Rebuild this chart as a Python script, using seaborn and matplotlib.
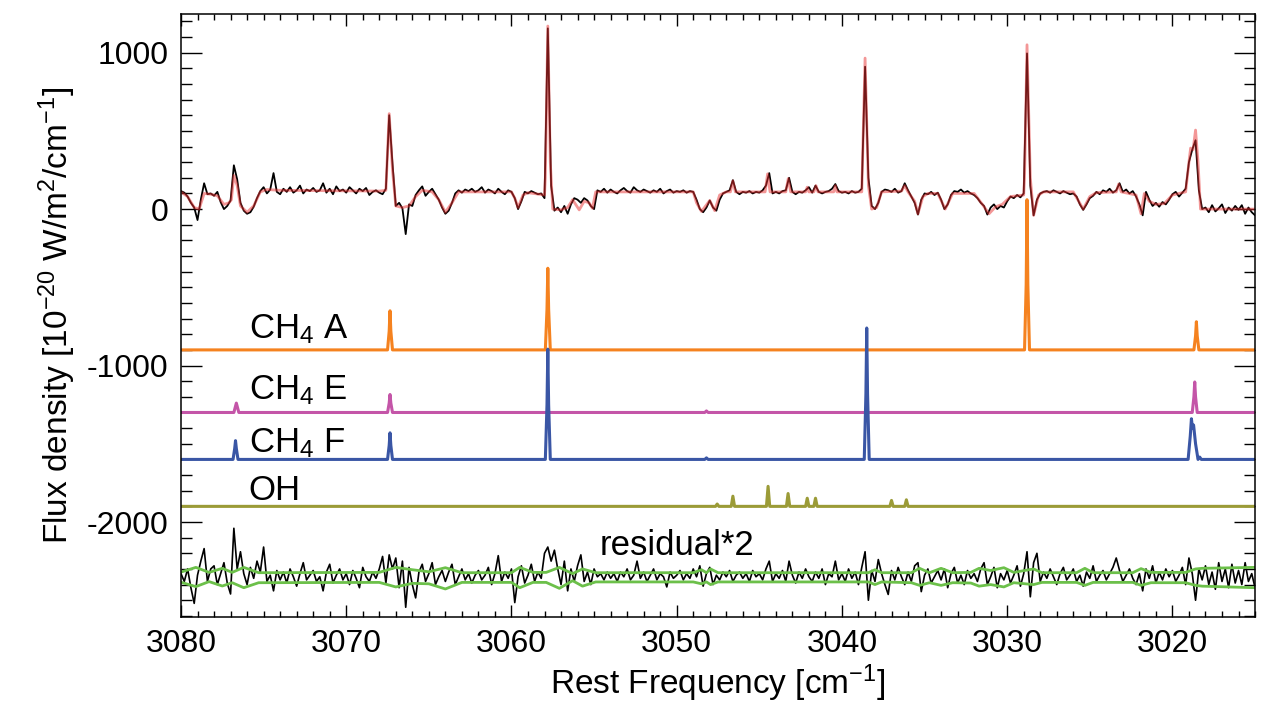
import numpy as np
import pandas as pd
import seaborn as sns
import matplotlib.pyplot as plt
from matplotlib.ticker import MultipleLocator

# observed spectrum, 0.2 cm-1 sampling, from 3080 down to 3015
freq = np.round(np.arange(3080.0, 3014.9, -0.2), 1)

flux = [
    115, 105, 80, 40, 10, -70, 60, 165, 95, 100,
    85, 110, 45, 0, 20, 55, 280, 190, 40, -10,
    -30, -20, 15, 70, 115, 140, 100, 125, 230, 110,
    95, 130, 110, 140, 105, 120, 150, 100, 125, 115,
    135, 110, 120, 165, 105, 130, 95, 145, 115, 125,
    105, 140, 120, 100, 130, 115, 135, 90, 110, 120,
    105, 95, 130, 600, 290, 20, 40, 5, -160, 30,
    20, 90, 120, 145, 85, 110, 130, 95, 60, 10,
    -30, -10, 40, 100, 120, 105, 125, 115, 130, 110,
    120, 140, 105, 125, 115, 100, 130, 110, 95, 120,
    110, 70, 0, 50, 110, 100, 115, 105, 95, 100,
    70, 1155, 150, -10, 10, -20, 20, -30, 30, 70,
    60, 40, 70, 55, 20, 0, 120, 110, 130, 105,
    125, 110, 100, 120, 135, 115, 105, 140, 120, 110,
    125, 115, 105, 120, 110, 130, 100, 115, 125, 105,
    115, 110, 120, 105, 115, 110, 60, 0, -20, 10,
    55, 10, -10, 60, 100, 110, 120, 185, 110, 95,
    110, 105, 115, 100, 110, 105, 120, 150, 230, 100,
    110, 100, 115, 120, 200, 110, 95, 110, 105, 120,
    140, 105, 150, 110, 100, 110, 115, 130, 160, 115,
    105, 110, 100, 115, 105, 110, 130, 910, 200, 20,
    0, 40, 110, 125, 120, 110, 130, 105, 115, 165,
    120, 80, 40, -35, 60, 100, 95, 110, 90, 105,
    60, 0, 30, 90, 115, 110, 125, 105, 115, 100,
    90, 70, 40, 20, -35, 10, 30, 0, 20, 10,
    50, 80, 70, 90, 75, 100, 995, 150, -40, 60,
    100, 110, 115, 105, 120, 110, 100, 115, 105, 95,
    100, 80, 30, -5, 30, 70, 85, 110, 95, 120,
    110, 130, 105, 120, 165, 110, 125, 100, 115, 80,
    30, -40, 110, 60, 20, 40, 15, 45, 30, 60,
    95, 110, 80, 105, 130, 300, 380, 440, 120, 0,
    10, -20, 25, -15, 5, 30, -25, 10, -10, 20,
    -5, 25, -30, 10, -20, -40,
]

resid = [
    -2330, -2380, -2300, -2420, -2520, -2340, -2250, -2170, -2380, -2300,
    -2280, -2400, -2330, -2260, -2390, -2460, -2040, -2300, -2190, -2330,
    -2400, -2290, -2360, -2250, -2320, -2160, -2380, -2340, -2440, -2310,
    -2370, -2320, -2390, -2300, -2350, -2410, -2330, -2260, -2370, -2340,
    -2310, -2380, -2350, -2440, -2320, -2270, -2390, -2340, -2300, -2370,
    -2330, -2400, -2310, -2360, -2420, -2290, -2350, -2380, -2320, -2360,
    -2300, -2220, -2390, -2210, -2300, -2230, -2420, -2250, -2545, -2290,
    -2400, -2485, -2320, -2270, -2380, -2330, -2260, -2400, -2350, -2310,
    -2380, -2320, -2270, -2400, -2350, -2300, -2370, -2330, -2390, -2340,
    -2310, -2370, -2340, -2290, -2400, -2330, -2215, -2380, -2320, -2360,
    -2300, -2515, -2350, -2280, -2390, -2340, -2270, -2380, -2320, -2360,
    -2200, -2160, -2250, -2180, -2300, -2400, -2250, -2440, -2300, -2380,
    -2280, -2210, -2380, -2320, -2400, -2300, -2350, -2330, -2370, -2320,
    -2360, -2330, -2380, -2320, -2350, -2300, -2370, -2340, -2250, -2360,
    -2320, -2380, -2340, -2300, -2370, -2330, -2350, -2415, -2320, -2360,
    -2340, -2310, -2370, -2330, -2360, -2300, -2350, -2280, -2410, -2330,
    -2290, -2400, -2340, -2370, -2320, -2350, -2310, -2380, -2340, -2320,
    -2360, -2330, -2380, -2310, -2350, -2330, -2370, -2300, -2250, -2380,
    -2330, -2360, -2310, -2380, -2250, -2340, -2390, -2320, -2360, -2300,
    -2350, -2380, -2320, -2360, -2300, -2400, -2330, -2350, -2250, -2370,
    -2330, -2380, -2300, -2360, -2320, -2400, -2290, -2190, -2500, -2310,
    -2380, -2240, -2330, -2400, -2463, -2310, -2370, -2290, -2350, -2400,
    -2320, -2380, -2280, -2260, -2445, -2340, -2300, -2390, -2350, -2310,
    -2370, -2300, -2420, -2330, -2290, -2390, -2340, -2400, -2310, -2360,
    -2330, -2380, -2300, -2260, -2400, -2350, -2290, -2420, -2330, -2370,
    -2310, -2390, -2340, -2280, -2410, -2330, -2190, -2478, -2260, -2200,
    -2380, -2320, -2360, -2300, -2350, -2400, -2330, -2290, -2370, -2340,
    -2300, -2380, -2340, -2410, -2320, -2360, -2280, -2380, -2340, -2310,
    -2370, -2330, -2290, -2230, -2310, -2380, -2340, -2300, -2360, -2400,
    -2330, -2440, -2300, -2360, -2280, -2390, -2320, -2370, -2300, -2350,
    -2310, -2380, -2340, -2290, -2400, -2230, -2330, -2500, -2300, -2370,
    -2280, -2400, -2320, -2430, -2260, -2380, -2300, -2420, -2270, -2390,
    -2310, -2400, -2260, -2380, -2330, -2420,
]

# total model fit
model_freq = [3080.0, 3079.6, 3079.2, 3078.9, 3078.6, 3078.2, 3077.8, 3077.4, 3077.1, 3076.95,
              3076.8, 3076.6, 3076.4, 3076.0, 3075.6, 3075.2, 3074.8, 3074.0, 3068.0, 3067.6,
              3067.4, 3067.2, 3067.0, 3066.6, 3066.2, 3065.8, 3065.4, 3064.8, 3064.4, 3064.0,
              3063.6, 3063.2, 3060.0, 3059.8, 3059.6, 3059.3, 3059.0, 3058.0, 3057.95, 3057.8,
              3057.65, 3057.5, 3057.0, 3056.6, 3056.3, 3055.9, 3055.6, 3055.3, 3055.1, 3054.9,
              3049.0, 3048.8, 3048.5, 3048.0, 3047.7, 3047.4, 3047.0, 3046.75, 3046.6, 3046.45,
              3044.65, 3044.5, 3044.35, 3043.4, 3043.25, 3043.1, 3042.2, 3042.1, 3042.0, 3041.7,
              3041.57, 3041.45, 3040.5, 3040.4, 3040.3, 3038.8, 3038.6, 3038.4, 3038.2, 3037.9,
              3037.6, 3036.4, 3036.2, 3036.0, 3035.6, 3035.4, 3035.1, 3034.8, 3034.2, 3033.75,
              3033.3, 3032.0, 3031.5, 3031.1, 3030.7, 3030.3, 3029.8, 3029.0, 3028.95, 3028.8,
              3028.6, 3028.4, 3028.1, 3027.8, 3026.0, 3025.4, 3025.0, 3024.6, 3023.4, 3023.25,
              3023.1, 3022.2, 3021.9, 3021.7, 3021.4, 3021.0, 3020.5, 3020.0, 3019.2, 3019.0,
              3018.9, 3018.75, 3018.6, 3018.45, 3018.3, 3015.0]
model_flux = [110, 80, 10, 0, 100, 95, 85, 30, 40, 60,
              215, 150, 20, -20, 20, 110, 125, 120, 115, 120,
              610, 250, 20, 10, 20, 80, 120, 110, 60, -20,
              40, 110, 110, 70, 10, 90, 105, 90, 200, 1170,
              300, 0, -5, 10, 60, -5, 50, 40, 5, 110,
              110, 40, -15, 55, -10, 90, 110, 110, 180, 110,
              110, 225, 110, 110, 195, 110, 110, 140, 110, 110,
              150, 110, 110, 150, 110, 110, 965, 150, 0, 10,
              110, 115, 150, 110, 50, -30, 80, 100, 100, 0,
              100, 100, 30, -30, 15, 30, 80, 90, 200, 1050,
              200, -40, 90, 110, 110, 0, 80, 105, 110, 160,
              110, 90, -30, 100, 50, 30, 35, 90, 110, 300,
              390, 380, 505, 300, 0, 0]

# fitted line components (offset for display)
ch4a_freq = [3080.0, 3067.5, 3067.4, 3067.35, 3067.3, 3067.2, 3057.95, 3057.85, 3057.8, 3057.75,
             3057.65, 3028.95, 3028.85, 3028.8, 3028.75, 3028.65, 3018.7, 3018.6, 3018.55, 3018.5,
             3018.4, 3015.0]
ch4a_flux = [-900, -900, -780, -650, -780, -900, -900, -640, -378, -640,
             -900, -900, -480, 60, -480, -900, -900, -810, -720, -810,
             -900, -900]

ch4e_freq = [3080.0, 3076.8, 3076.65, 3076.5, 3067.5, 3067.4, 3067.35, 3067.3, 3067.2, 3048.3,
             3048.2, 3048.1, 3018.8, 3018.7, 3018.65, 3018.6, 3018.5, 3015.0]
ch4e_flux = [-1300, -1300, -1240, -1300, -1300, -1240, -1185, -1240, -1300, -1300,
             -1290, -1300, -1300, -1200, -1105, -1200, -1300, -1300]

ch4f_freq = [3080.0, 3076.85, 3076.75, 3076.7, 3076.65, 3076.55, 3067.5, 3067.4, 3067.35, 3067.3,
             3067.2, 3057.95, 3057.85, 3057.8, 3057.75, 3057.65, 3048.3, 3048.2, 3048.1, 3038.65,
             3038.55, 3038.5, 3038.45, 3038.35, 3019.05, 3018.92, 3018.85, 3018.79, 3018.72, 3018.6,
             3018.45, 3018.35, 3018.25, 3015.0]
ch4f_flux = [-1600, -1600, -1530, -1480, -1530, -1600, -1600, -1510, -1430, -1510,
             -1600, -1600, -1250, -895, -1250, -1600, -1600, -1590, -1600, -1600,
             -1180, -760, -1180, -1600, -1600, -1450, -1340, -1400, -1380, -1500,
             -1600, -1585, -1600, -1600]

oh_freq = [3080.0, 3047.65, 3047.55, 3047.45, 3046.7, 3046.6, 3046.5, 3044.57, 3044.47, 3044.37,
           3043.36, 3043.26, 3043.16, 3042.2, 3042.1, 3042.0, 3041.7, 3041.6, 3041.5, 3037.1,
           3037.0, 3036.9, 3036.2, 3036.1, 3036.0, 3015.0]
oh_flux = [-1900, -1900, -1885, -1900, -1900, -1835, -1900, -1900, -1772, -1900,
           -1900, -1818, -1900, -1900, -1848, -1900, -1900, -1848, -1900, -1900,
           -1862, -1900, -1900, -1858, -1900, -1900]

# noise envelope around residual
env_freq = [3080.0, 3079.1, 3078.3, 3077.5, 3076.9, 3076.2, 3075.3, 3068.0, 3067.0, 3066.0,
            3065.0, 3064.0, 3063.0, 3060.0, 3059.5, 3058.7, 3057.9, 3057.1, 3056.3, 3055.7,
            3054.9, 3049.0, 3048.5, 3048.2, 3047.95, 3047.5, 3038.4, 3038.0, 3037.6, 3035.8,
            3035.3, 3034.7, 3034.0, 3033.3, 3032.2, 3031.7, 3031.0, 3030.2, 3029.6, 3028.4,
            3027.9, 3025.8, 3025.3, 3024.8, 3022.4, 3021.9, 3021.3, 3019.2, 3018.6, 3018.2,
            3015.0]
env_upper = [-2320, -2290, -2322, -2296, -2322, -2290, -2324, -2322, -2290, -2305,
             -2318, -2292, -2324, -2324, -2290, -2322, -2322, -2290, -2330, -2300,
             -2324, -2324, -2305, -2324, -2300, -2324, -2324, -2305, -2324, -2324,
             -2296, -2324, -2296, -2324, -2322, -2296, -2310, -2292, -2322, -2300,
             -2324, -2324, -2296, -2324, -2324, -2298, -2322, -2322, -2300, -2296,
             -2290]
env_lower = [-2385, -2413, -2381, -2409, -2388, -2420, -2388, -2386, -2415, -2392,
             -2395, -2428, -2386, -2386, -2420, -2386, -2386, -2424, -2375, -2410,
             -2383, -2383, -2395, -2383, -2400, -2383, -2383, -2400, -2383, -2388,
             -2405, -2388, -2405, -2388, -2390, -2410, -2400, -2415, -2388, -2400,
             -2386, -2386, -2405, -2386, -2386, -2405, -2388, -2388, -2405, -2410,
             -2420]

labels = ["CH$_4$ A", "CH$_4$ E", "CH$_4$ F", "OH"]
label_y = [-825, -1215, -1553, -1860]

assert len(flux) == len(freq) and len(resid) == len(freq)

sns.set_theme(style="ticks")
plt.rcParams['font.family'] = ['Liberation Sans', 'DejaVu Sans']
plt.rcParams['mathtext.fontset'] = 'custom'
plt.rcParams['mathtext.rm'] = 'Liberation Sans'
plt.rcParams['mathtext.it'] = 'Liberation Sans:italic'
plt.rcParams['mathtext.default'] = 'regular'
plt.rcParams['axes.unicode_minus'] = False
for key in ['text.color', 'axes.labelcolor', 'xtick.color', 'ytick.color', 'axes.edgecolor']:
    plt.rcParams[key] = 'black'

spec = pd.DataFrame({"freq": freq, "flux": flux, "resid": resid})

fig = plt.figure(figsize=(12.63, 7.17), dpi=100)
ax = fig.add_axes([0.1433, 0.1395, 0.8504, 0.841])

sns.lineplot(data=spec, x="freq", y="flux", ax=ax, color="black", lw=1.3, estimator=None)
sns.lineplot(x=model_freq, y=model_flux, ax=ax, color="#e83030", lw=2.0, alpha=0.5,
             estimator=None)
sns.lineplot(x=ch4a_freq, y=ch4a_flux, ax=ax, color="#f5821f", lw=2.2, estimator=None)
sns.lineplot(x=ch4e_freq, y=ch4e_flux, ax=ax, color="#c455a8", lw=2.2, estimator=None)
sns.lineplot(x=ch4f_freq, y=ch4f_flux, ax=ax, color="#3a56a5", lw=2.2, estimator=None)
sns.lineplot(x=oh_freq, y=oh_flux, ax=ax, color="#9b9b37", lw=2.2, estimator=None)
sns.lineplot(data=spec, x="freq", y="resid", ax=ax, color="black", lw=1.2, estimator=None)
sns.lineplot(x=env_freq, y=env_upper, ax=ax, color="#6cc04a", lw=2.0, estimator=None)
sns.lineplot(x=env_freq, y=env_lower, ax=ax, color="#6cc04a", lw=2.0, estimator=None)

for lab, yy in zip(labels, label_y):
    ax.text(3075.9, yy, lab, fontsize=25, va="baseline", ha="left")
ax.text(3054.65, -2212, "residual*2", fontsize=25, va="baseline", ha="left")

ax.set_xlim(3080, 3015)
ax.set_ylim(-2607, 1247)
ax.xaxis.set_major_locator(MultipleLocator(10))
ax.xaxis.set_minor_locator(MultipleLocator(1))
ax.yaxis.set_major_locator(MultipleLocator(1000))
ax.yaxis.set_minor_locator(MultipleLocator(100))
ax.tick_params(which="both", direction="in", top=True, right=True, colors="black",
               labelsize=23, width=1.0)
ax.tick_params(axis="x", which="major", length=8.5, pad=9)
ax.tick_params(axis="x", which="minor", length=4)
ax.tick_params(axis="y", which="major", length=15, pad=9)
ax.tick_params(axis="y", which="minor", length=8)
for s in ax.spines.values():
    s.set_color("black")
    s.set_linewidth(1.1)

ax.set_xlabel("Rest Frequency [cm$^{-1}$]", fontsize=24, labelpad=2)
ax.set_ylabel("Flux density [10$^{-20}$ W/m$^{2}$/cm$^{-1}$]", fontsize=24, labelpad=6)

fig.savefig("out.png", dpi=100)
